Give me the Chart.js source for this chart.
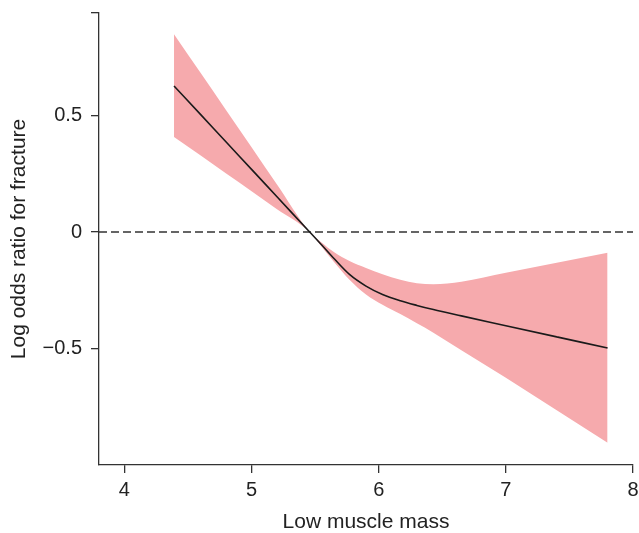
<!DOCTYPE html>
<html>
<head>
<meta charset="utf-8">
<script src="https://cdn.jsdelivr.net/npm/chart.js@4/dist/chart.umd.min.js"></script>
<style>
  html, body { margin: 0; padding: 0; background: #ffffff; }
  #wrap { width: 639px; height: 533px; }
</style>
</head>
<body>
<div id="wrap"><canvas id="c" width="639" height="533"></canvas></div>
<script>
// Data
const xValues   = [4.39, 4.6, 4.8, 5.0, 5.2, 5.457, 5.55, 5.65, 5.77, 5.9, 6.03, 6.17, 6.3, 6.43, 6.65, 7.0, 7.4, 7.8];
const estimate  = [0.627, 0.504, 0.386, 0.269, 0.151, 0, -0.055, -0.115, -0.182, -0.232, -0.268, -0.295, -0.315, -0.333, -0.360, -0.402, -0.450, -0.498];
const upperCI   = [0.849, 0.682, 0.523, 0.364, 0.204, 0, -0.045, -0.087, -0.124, -0.154, -0.181, -0.205, -0.220, -0.224, -0.213, -0.175, -0.132, -0.089];
const lowerCI   = [0.408, 0.328, 0.251, 0.175, 0.098, 0, -0.062, -0.130, -0.205, -0.268, -0.312, -0.352, -0.392, -0.432, -0.507, -0.625, -0.765, -0.904];
const refLineX  = [3.8, 8];
const refLineY  = [0, 0];
const xTicks    = [4, 5, 6, 7, 8];
const yTicks    = [-0.5, 0, 0.5];
const yAxisTop  = 0.94;
const xTitle    = 'Low muscle mass';
const yTitle    = 'Log odds ratio for fracture';

const toPts = (xs, ys) => xs.map((x, i) => ({ x: x, y: ys[i] }));

const FONT = 'Liberation Sans, Arial, Helvetica, sans-serif';
const AXIS = '#333333';

new Chart(document.getElementById('c'), {
  type: 'line',
  data: {
    datasets: [
      {
        label: 'upper',
        data: toPts(xValues, upperCI),
        borderWidth: 0,
        borderColor: 'rgba(0,0,0,0)',
        backgroundColor: '#f6aaad',
        fill: '+1',
        pointRadius: 0,
        cubicInterpolationMode: 'monotone',
        order: 3
      },
      {
        label: 'lower',
        data: toPts(xValues, lowerCI),
        borderWidth: 0,
        borderColor: 'rgba(0,0,0,0)',
        fill: false,
        pointRadius: 0,
        cubicInterpolationMode: 'monotone',
        order: 3
      },
      {
        label: 'zero',
        data: toPts(refLineX, refLineY),
        borderColor: '#333333',
        borderWidth: 1.5,
        borderDash: [8, 4],
        fill: false,
        pointRadius: 0,
        order: 1
      },
      {
        label: 'estimate',
        data: toPts(xValues, estimate),
        borderColor: '#1a1a1a',
        borderWidth: 1.6,
        fill: false,
        pointRadius: 0,
        cubicInterpolationMode: 'monotone',
        order: 0
      }
    ]
  },
  options: {
    responsive: false,
    animation: false,
    events: [],
    layout: { padding: { top: 13, right: 6, left: 0, bottom: 0 } },
    plugins: {
      legend: { display: false },
      tooltip: { enabled: false },
      filler: { drawTime: 'beforeDatasetsDraw' }
    },
    scales: {
      x: {
        type: 'linear',
        min: 3.8,
        max: 8,
        afterBuildTicks: (s) => { s.ticks = xTicks.map(v => ({ value: v })); },
        afterFit: (s) => { s.height = 68; s.paddingLeft = 0; s.paddingRight = 0; },
        grid: { display: true, drawOnChartArea: false, drawTicks: true, tickLength: 8, color: AXIS, lineWidth: 1.3 },
        border: { display: true, color: AXIS, width: 1.3 },
        ticks: {
          color: '#222222',
          font: { family: FONT, size: 20 },
          padding: 5,
          maxRotation: 0,
          callback: (v) => String(v)
        },
        title: {
          display: true,
          text: xTitle,
          color: '#222222',
          font: { family: FONT, size: 21, lineHeight: 1 },
          padding: { top: 0, bottom: 0 }
        }
      },
      y: {
        type: 'linear',
        min: -1,
        max: yAxisTop,
        afterBuildTicks: (s) => { s.ticks = yTicks.concat([yAxisTop]).map(v => ({ value: v })); },
        afterFit: (s) => { s.width = 99; s.paddingTop = 0; s.paddingBottom = 0; },
        grid: { display: true, drawOnChartArea: false, drawTicks: true, tickLength: 8, color: AXIS, lineWidth: 1.3 },
        border: { display: true, color: AXIS, width: 1.3 },
        ticks: {
          color: '#222222',
          font: { family: FONT, size: 20 },
          padding: 9,
          callback: (v) => {
            if (yTicks.indexOf(v) < 0) return '';
            return v < 0 ? '\u2212' + String(-v) : String(v);
          }
        },
        title: {
          display: true,
          text: yTitle,
          color: '#222222',
          font: { family: FONT, size: 21, lineHeight: 1 },
          padding: { top: 9, bottom: 0 }
        }
      }
    }
  }
});
</script>
</body>
</html>
